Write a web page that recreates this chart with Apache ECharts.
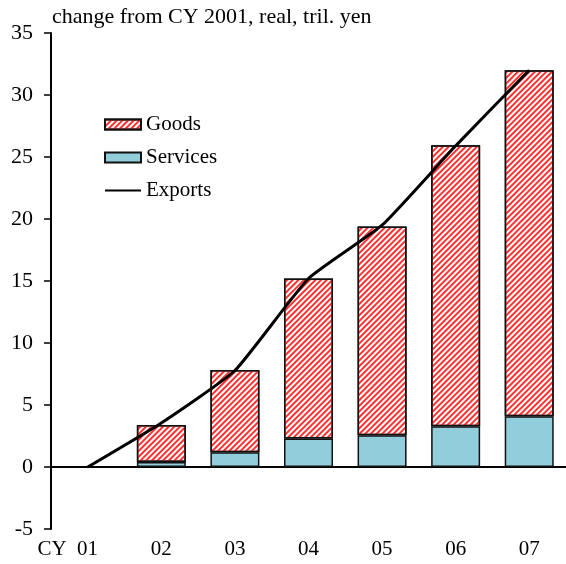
<!DOCTYPE html>
<html>
<head>
<meta charset="utf-8">
<script src="https://cdn.jsdelivr.net/npm/echarts@6/dist/echarts.min.js"></script>
<style>
  html, body { margin: 0; padding: 0; background: #fff; }
  #main { width: 566px; height: 564px; }
</style>
</head>
<body>
<div id="main"></div>
<script>
// change from CY 2001, real, tril. yen
var categories = ['01', '02', '03', '04', '05', '06', '07']
var services = [null, 0.40, 1.19, 2.29, 2.56, 3.28, 4.09]
var goods = [null, 2.99, 6.63, 12.92, 16.84, 22.66, 27.91]
var exports = [0, 3.55, 7.78, 15.2, 19.5, 25.9, 32.0]
var yTicks = { min: -5, max: 35, interval: 5 }

// red diagonal hatch for goods
var goodsHatch = {
  symbol: 'rect',
  symbolSize: 1,
  color: '#ff3030',
  dashArrayX: [1, 0],
  dashArrayY: [1.2, 1.8],
  rotation: -Math.PI / 4
}

var font = 'Liberation Serif'
var myChart = echarts.init(document.getElementById('main'))
var option = {
  animation: false,
  title: {
    text: 'change from CY 2001, real, tril. yen',
    left: 47,
    top: 1,
    textStyle: { fontFamily: font, fontSize: 22, fontWeight: 'normal', color: '#000' }
  },
  legend: {
    orient: 'vertical',
    left: 99,
    top: 109,
    itemWidth: 36,
    itemHeight: 10,
    itemGap: 12,
    textStyle: { fontFamily: font, fontSize: 21, color: '#000' },
    data: [
      { name: 'Goods', icon: 'rect' },
      { name: 'Services', icon: 'rect' },
      { name: 'Exports', itemStyle: { color: 'rgba(0,0,0,0)', borderWidth: 0 } }
    ]
  },
  grid: { left: 51, top: 33, width: 518, height: 496 },
  xAxis: {
    type: 'category',
    data: categories,
    axisLine: { lineStyle: { color: '#000', width: 2 } },
    axisTick: { inside: true, length: 6, lineStyle: { color: '#000', width: 1.5 } },
    axisLabel: {
      interval: 0,
      color: '#000',
      fontFamily: font,
      fontSize: 21,
      margin: 10,
      formatter: function (v, i) {
        return i === 0 ? '{a|CY  ' + v + '}' : v
      },
      rich: {
        a: { fontFamily: font, fontSize: 21, color: '#000', padding: [0, 40, 0, 0] }
      }
    }
  },
  yAxis: {
    type: 'value',
    min: yTicks.min,
    max: yTicks.max,
    interval: yTicks.interval,
    splitLine: { show: false },
    axisLine: { show: true, lineStyle: { color: '#000', width: 2 } },
    axisTick: { show: true, length: 7, lineStyle: { color: '#000', width: 1.5 } },
    axisLabel: { color: '#000', fontFamily: font, fontSize: 22, margin: 18 }
  },
  series: [
    {
      name: 'Services',
      type: 'bar',
      stack: 'total',
      barWidth: 49,
      data: services,
      itemStyle: { color: '#92cddc', borderColor: '#111', borderWidth: 1.5 },
      markLine: {
        silent: true,
        symbol: 'none',
        label: { show: false },
        lineStyle: { color: '#000', width: 1, type: 'solid' },
        data: [{ yAxis: 0 }]
      }
    },
    {
      name: 'Goods',
      type: 'bar',
      stack: 'total',
      barWidth: 49,
      data: goods,
      itemStyle: { color: '#ffffff', borderColor: '#111', borderWidth: 1.5, decal: goodsHatch }
    },
    {
      name: 'Exports',
      type: 'line',
      data: exports,
      symbol: 'none',
      smooth: 0.15,
      z: 5,
      lineStyle: { color: '#000', width: 3 },
      itemStyle: { color: '#000' }
    }
  ]
}
myChart.setOption(option)
</script>
</body>
</html>
